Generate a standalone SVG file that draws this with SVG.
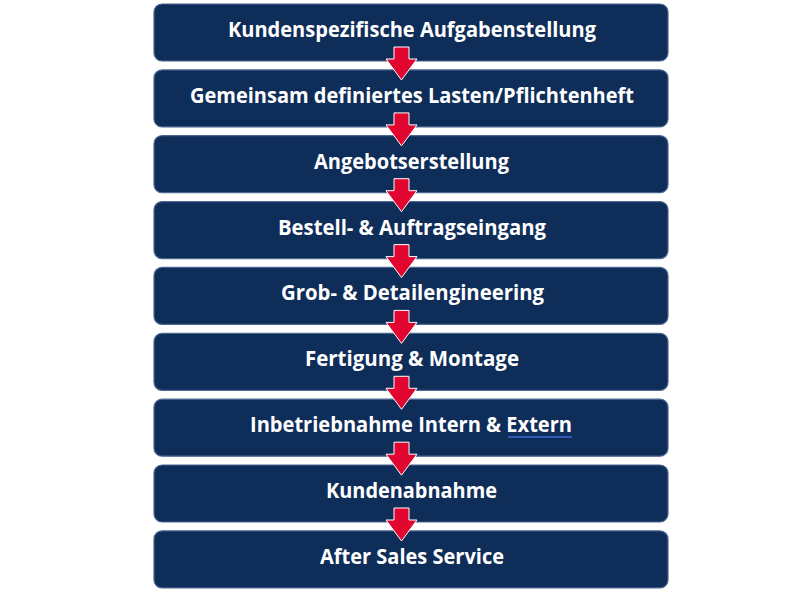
<svg xmlns="http://www.w3.org/2000/svg" width="800" height="592" viewBox="0 0 800 592">
<style>
.box{fill:#0F2D59;stroke:#4A6790;stroke-width:1.2}
.lbl{font-family:"Open Sans","Liberation Sans",sans-serif;font-weight:bold;font-size:21px;fill:#FFFFFF;text-anchor:middle}
.arr{fill:#E1062F;stroke:#FFFFFF;stroke-width:1}
</style>
<rect width="800" height="592" fill="#FFFFFF"/>
<g id="nodes">
<g id="n1"><rect class="box" x="154" y="4" width="514" height="57" rx="8"/><text class="lbl" x="412" y="37" textLength="368" lengthAdjust="spacingAndGlyphs">Kundenspezifische Aufgabenstellung</text></g>
<g id="n2"><rect class="box" x="154" y="69.9" width="514" height="57" rx="8"/><text class="lbl" x="412" y="102.9" textLength="444" lengthAdjust="spacingAndGlyphs">Gemeinsam definiertes Lasten/Pflichtenheft</text></g>
<g id="n3"><rect class="box" x="154" y="135.7" width="514" height="57" rx="8"/><text class="lbl" x="411.5" y="168.7" textLength="195" lengthAdjust="spacingAndGlyphs">Angebotserstellung</text></g>
<g id="n4"><rect class="box" x="154" y="201.6" width="514" height="57" rx="8"/><text class="lbl" x="412" y="234.6" textLength="268" lengthAdjust="spacingAndGlyphs">Bestell- &amp; Auftragseingang</text></g>
<g id="n5"><rect class="box" x="154" y="267.4" width="514" height="57" rx="8"/><text class="lbl" x="412.5" y="300.4" textLength="263" lengthAdjust="spacingAndGlyphs">Grob- &amp; Detailengineering</text></g>
<g id="n6"><rect class="box" x="154" y="333.3" width="514" height="57" rx="8"/><text class="lbl" x="412" y="366.3" textLength="214" lengthAdjust="spacingAndGlyphs">Fertigung &amp; Montage</text></g>
<g id="n7"><rect class="box" x="154" y="399.2" width="514" height="57" rx="8"/><text class="lbl" x="411" y="432.2" textLength="322" lengthAdjust="spacingAndGlyphs">Inbetriebnahme Intern &amp; Extern</text><line x1="508" y1="437" x2="572" y2="437" stroke="#2E59B5" stroke-width="2"/></g>
<g id="n8"><rect class="box" x="154" y="465" width="514" height="57" rx="8"/><text class="lbl" x="411.5" y="498" textLength="171" lengthAdjust="spacingAndGlyphs">Kundenabnahme</text></g>
<g id="n9"><rect class="box" x="154" y="530.9" width="514" height="57" rx="8"/><text class="lbl" x="412" y="563.9" textLength="184" lengthAdjust="spacingAndGlyphs">After Sales Service</text></g>
</g>
<defs>
<path id="arrow" class="arr" d="M394,-14 H409 V-2 H417 L401.5,19 L386,-2 H394 Z"/>
</defs>
<g id="connectors">
<use href="#arrow" y="61"/>
<use href="#arrow" y="126.9"/>
<use href="#arrow" y="192.7"/>
<use href="#arrow" y="258.6"/>
<use href="#arrow" y="324.4"/>
<use href="#arrow" y="390.3"/>
<use href="#arrow" y="456.2"/>
<use href="#arrow" y="522"/>
</g>
</svg>
